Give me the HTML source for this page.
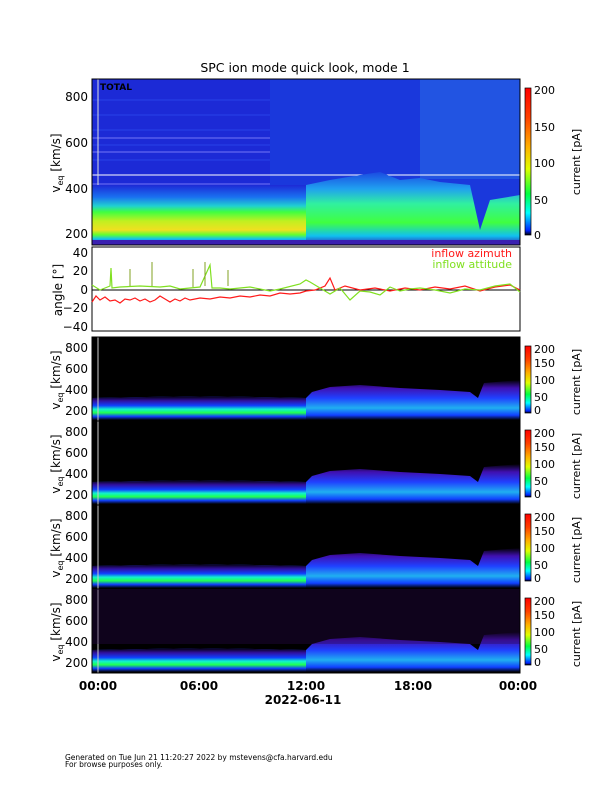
<!DOCTYPE html>
<html><head><meta charset="utf-8"><style>
html,body{margin:0;padding:0;background:#fff;}
svg{display:block;font-family:"DejaVu Sans","Liberation Sans",sans-serif;}
</style></head><body>
<svg width="612" height="792" viewBox="0 0 612 792" xmlns="http://www.w3.org/2000/svg">
<defs>
<linearGradient id="cb" x1="0" y1="1" x2="0" y2="0">
<stop offset="0" stop-color="#000"/><stop offset="0.03" stop-color="#0020ff"/><stop offset="0.15" stop-color="#00ffff"/><stop offset="0.28" stop-color="#00ff40"/><stop offset="0.45" stop-color="#e0ff00"/><stop offset="0.6" stop-color="#ffb000"/><stop offset="0.8" stop-color="#ff4000"/><stop offset="1" stop-color="#ff0000"/>
</linearGradient>
<linearGradient id="topband" gradientUnits="userSpaceOnUse" x1="0" y1="185" x2="0" y2="245">
<stop offset="0" stop-color="#1c2ad6"/><stop offset="0.2" stop-color="#1a70f0"/><stop offset="0.35" stop-color="#20d0d0"/><stop offset="0.45" stop-color="#40ff40"/><stop offset="0.6" stop-color="#c0f020"/><stop offset="0.75" stop-color="#f0e020"/><stop offset="0.83" stop-color="#60ff30"/><stop offset="0.9" stop-color="#10c0f0"/><stop offset="1" stop-color="#3020b0"/>
</linearGradient>
<linearGradient id="topband2" gradientUnits="userSpaceOnUse" x1="0" y1="170" x2="0" y2="245">
<stop offset="0" stop-color="#1a40e0"/><stop offset="0.25" stop-color="#20a0f0"/><stop offset="0.45" stop-color="#30f0a0"/><stop offset="0.7" stop-color="#40ff40"/><stop offset="0.88" stop-color="#10c0f0"/><stop offset="1" stop-color="#3020b0"/>
</linearGradient>
<linearGradient id="band" gradientUnits="userSpaceOnUse" x1="0" y1="396" x2="0" y2="420">
<stop offset="0" stop-color="#000"/><stop offset="0.2" stop-color="#3010a0"/><stop offset="0.4" stop-color="#1040ff"/><stop offset="0.55" stop-color="#10f0d0"/><stop offset="0.7" stop-color="#20ff50"/><stop offset="0.85" stop-color="#1040ff"/><stop offset="1" stop-color="#000"/>
</linearGradient>
<linearGradient id="band2" gradientUnits="userSpaceOnUse" x1="0" y1="380" x2="0" y2="420">
<stop offset="0" stop-color="#000"/><stop offset="0.2" stop-color="#4010b0"/><stop offset="0.45" stop-color="#2040ff"/><stop offset="0.7" stop-color="#20b0f0"/><stop offset="0.88" stop-color="#1040ff"/><stop offset="1" stop-color="#000"/>
</linearGradient>
</defs>

<text x="305" y="72" font-size="12.5" text-anchor="middle">SPC ion mode quick look, mode 1</text>

<!-- TOP PANEL -->
<rect x="92" y="79" width="428" height="166" fill="#1c2ad6"/>
<rect x="270" y="79" width="250" height="166" fill="#1a38dc"/>
<rect x="420" y="79" width="100" height="100" fill="#2a70e8" opacity="0.5"/>
<g stroke="#3a60ff" stroke-width="0.7" opacity="0.6">
<line x1="92" y1="100" x2="270" y2="100"/><line x1="92" y1="115" x2="270" y2="115"/><line x1="92" y1="130" x2="270" y2="130"/><line x1="92" y1="145" x2="270" y2="145"/><line x1="92" y1="160" x2="270" y2="160"/>
</g>
<g stroke="#9090ff" stroke-width="0.8"><line x1="92" y1="138" x2="270" y2="138"/><line x1="92" y1="152" x2="270" y2="152"/><line x1="92" y1="184" x2="270" y2="184"/></g>
<line x1="92" y1="175" x2="520" y2="175" stroke="#fff" stroke-width="1"/>
<line x1="98" y1="79" x2="98" y2="245" stroke="#ddd" stroke-width="1"/>
<rect x="92" y="185" width="214" height="60" fill="url(#topband)"/>
<polygon points="306,245 306,185 330,180 360,175 380,172 400,180 420,178 440,182 470,185 480,230 490,200 520,195 520,245" fill="url(#topband2)"/>
<rect x="92" y="240" width="428" height="5" fill="#3a20b0"/>
<text x="100" y="90" font-size="9" font-weight="bold">TOTAL</text>
<rect x="92" y="79" width="428" height="166" fill="none" stroke="#000" stroke-width="1"/>
<g font-size="12" text-anchor="end">
<text x="88" y="101">800</text><text x="88" y="147">600</text><text x="88" y="193">400</text><text x="88" y="238">200</text>
</g>
<text transform="translate(60,163) rotate(-90)" font-size="12" text-anchor="middle">v<tspan font-size="8" dy="3">eq</tspan><tspan dy="-3"> [km/s]</tspan></text>
<rect x="525" y="88" width="6" height="147" fill="url(#cb)" stroke="#000" stroke-width="0.7"/>
<g font-size="11"><text x="534" y="94">200</text><text x="534" y="131">150</text><text x="534" y="167">100</text><text x="534" y="204">50</text><text x="534" y="239">0</text></g>
<text transform="translate(580,162) rotate(-90)" font-size="11" text-anchor="middle">current [pA]</text>

<!-- ANGLE PANEL -->
<rect x="92" y="247" width="428" height="84" fill="#fff" stroke="#000" stroke-width="1"/>
<line x1="92" y1="290" x2="520" y2="290" stroke="#000" stroke-width="1"/>
<polyline fill="none" stroke="#ff1a1a" stroke-width="1.2" points="92,302 96,296 100,300 105,297 110,301 115,300 120,303 125,299 130,300 135,298 140,301 145,299 150,302 155,300 160,296 165,299 170,302 175,299 180,301 185,298 190,300 200,298 210,299 220,297 230,298 240,296 250,297 260,295 270,296 280,293 290,294 300,293 306,291 315,290 325,286 330,278 335,290 345,286 360,290 375,288 390,291 405,288 420,290 435,287 450,289 465,286 480,291 495,287 510,285 520,290"/>
<polyline fill="none" stroke="#80e020" stroke-width="1.2" points="92,285 100,290 110,286 111,268 112,288 120,287 140,286 160,287 170,286 180,289 200,287 210,265 212,288 220,288 230,289 250,287 270,291 280,289 300,284 306,280 310,282 320,288 330,294 340,288 350,300 360,291 370,292 380,295 390,287 400,291 410,289 420,288 435,290 450,293 465,289 480,290 495,286 510,284 520,292"/>
<g stroke="#80a020" stroke-width="1"><line x1="130" y1="286" x2="130" y2="269"/><line x1="152" y1="286" x2="152" y2="262"/><line x1="205" y1="286" x2="205" y2="262"/><line x1="228" y1="286" x2="228" y2="270"/><line x1="193" y1="287" x2="193" y2="269"/></g>
<text x="512" y="257" font-size="11" fill="#ff1a1a" text-anchor="end">inflow azimuth</text>
<text x="512" y="268" font-size="11" fill="#80e020" text-anchor="end">inflow attitude</text>
<g font-size="12" text-anchor="end"><text x="88" y="257">40</text><text x="88" y="275">20</text><text x="88" y="294">0</text><text x="88" y="312">−20</text><text x="88" y="331">−40</text></g>
<text transform="translate(62,290) rotate(-90)" font-size="12" text-anchor="middle">angle [°]</text>

<!-- BOTTOM PANELS -->
<g id="p">
<rect x="92" y="337" width="428" height="84" fill="#000"/>
<polygon points="92,421 92,398 200,396 306,398 312,392 330,387 360,385 400,388 440,390 470,392 478,398 484,383 520,380 520,421" fill="url(#band2)"/>
<polygon points="92,420 92,398 200,396 306,398 306,420" fill="url(#band)"/>
<line x1="98" y1="337" x2="98" y2="421" stroke="#ccc" stroke-width="1"/>
<rect x="92" y="337" width="428" height="84" fill="none" stroke="#000" stroke-width="1"/>
<g font-size="12" text-anchor="end"><text x="88" y="352">800</text><text x="88" y="373">600</text><text x="88" y="394">400</text><text x="88" y="415">200</text></g>
<text transform="translate(60,380) rotate(-90)" font-size="12" text-anchor="middle">v<tspan font-size="8" dy="3">eq</tspan><tspan dy="-3"> [km/s]</tspan></text>
<rect x="525" y="346" width="6" height="67" fill="url(#cb)" stroke="#000" stroke-width="0.7"/>
<g font-size="11"><text x="534" y="353">200</text><text x="534" y="367">150</text><text x="534" y="384">100</text><text x="534" y="401">50</text><text x="534" y="414">0</text></g>
<text transform="translate(580,382) rotate(-90)" font-size="11" text-anchor="middle">current [pA]</text>
</g>
<use href="#p" transform="translate(0,84)"/>
<use href="#p" transform="translate(0,168)"/>
<use href="#p" transform="translate(0,252)"/>
<rect x="92" y="589" width="428" height="55" fill="#2a0a50" opacity="0.35"/>
<rect x="92" y="337" width="428" height="336" fill="none" stroke="#000" stroke-width="1"/>

<g font-size="12" font-weight="bold" text-anchor="middle">
<text x="98" y="690">00:00</text><text x="199" y="690">06:00</text><text x="306" y="690">12:00</text><text x="413" y="690">18:00</text><text x="518" y="690">00:00</text>
<text x="303" y="704">2022-06-11</text>
</g>
<g font-size="7.5"><text x="65" y="760">Generated on Tue Jun 21 11:20:27 2022 by mstevens@cfa.harvard.edu</text><text x="65" y="767">For browse purposes only.</text></g>
</svg>
</body></html>
